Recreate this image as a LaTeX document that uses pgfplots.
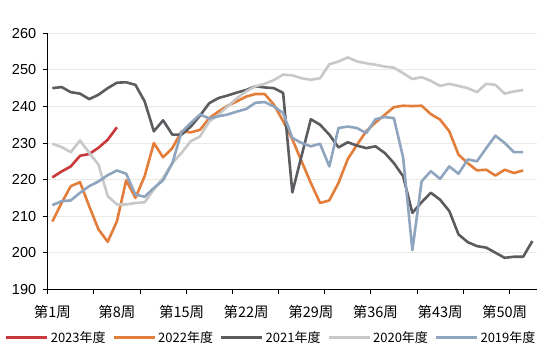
\documentclass[border=0pt]{standalone}
\usepackage{pgfplots}
\pgfplotsset{compat=1.18}
\usepackage{pgfplotstable}
\usepackage{fontspec}
\setmainfont{Liberation Sans}
\newfontfamily\cjk{Noto Sans CJK SC}
\definecolor{c23}{HTML}{C9383A}
\definecolor{c22}{HTML}{E27D3A}
\definecolor{c21}{HTML}{5B5C60}
\definecolor{c20}{HTML}{C8C8C8}
\definecolor{c19}{HTML}{8FA4BE}
\definecolor{gridc}{HTML}{EAEAE2}
\pgfplotstableread{
week y23 y22 y21 y20 y19
1 220.6 208.5 245.0 229.8 213.0
2 222.2 213.6 245.3 228.9 214.1
3 223.6 218.2 243.9 227.5 214.3
4 226.5 219.3 243.5 230.7 216.4
5 227.0 212.7 242.0 227.3 218.2
6 228.7 206.4 243.2 224.1 219.5
7 230.9 203.0 245.0 215.5 221.2
8 234.3 208.6 246.5 213.2 222.5
9 nan 219.8 246.6 213.2 221.6
10 nan 215.0 245.9 213.6 215.9
11 nan 220.9 241.4 213.8 215.3
12 nan 230.0 233.2 217.3 217.7
13 nan 226.1 236.2 220.5 219.8
14 nan 228.6 232.3 224.5 224.5
15 nan 233.2 232.3 227.3 233.0
16 nan 232.9 234.5 230.5 235.5
17 nan 233.6 237.5 231.8 237.8
18 nan 236.8 240.9 235.9 236.7
19 nan 238.6 242.3 237.7 237.3
20 nan 240.2 243.0 240.0 237.8
21 nan 241.4 243.8 242.3 238.6
22 nan 242.7 244.5 244.1 239.3
23 nan 243.4 245.5 245.5 241.0
24 nan 243.4 245.2 246.2 241.2
25 nan 240.5 245.0 247.2 240.0
26 nan 236.0 243.7 248.7 238.2
27 nan 231.0 216.5 248.5 231.4
28 nan 225.0 226.5 247.7 230.0
29 nan 219.1 236.5 247.3 229.1
30 nan 213.6 235.0 247.7 229.8
31 nan 214.3 232.3 251.5 223.6
32 nan 219.1 228.8 252.3 234.1
33 nan 225.6 230.2 253.4 234.5
34 nan 229.5 229.3 252.3 234.1
35 nan 233.2 228.6 251.8 232.7
36 nan 235.6 229.1 251.4 236.5
37 nan 237.7 227.3 250.9 237.1
38 nan 239.8 224.5 250.6 236.8
39 nan 240.2 220.9 249.1 226.0
40 nan 240.1 210.9 247.5 200.7
41 nan 240.2 213.8 248.0 219.5
42 nan 237.9 216.4 247.0 222.3
43 nan 236.4 214.5 245.6 220.2
44 nan 233.2 211.4 246.2 223.6
45 nan 226.8 205.0 245.6 221.6
46 nan 224.5 202.9 245.0 225.5
47 nan 222.5 201.8 243.9 225.0
48 nan 222.7 201.4 246.2 228.6
49 nan 221.1 200.0 245.9 232.0
50 nan 222.7 198.6 243.5 230.0
51 nan 221.8 198.9 244.1 227.5
52 nan 222.5 198.9 244.5 227.5
53 nan nan 203.2 nan nan
}\datatable
\begin{document}
\begin{tikzpicture}
\path[use as bounding box] (0,0) rectangle (550bp,354bp);
\begin{axis}[
  at={(47.7bp,64.7bp)}, anchor=south west,
  scale only axis, width=489.3bp, height=256bp,
  xmin=0.5, xmax=53.5, ymin=190, ymax=260,
  axis x line*=bottom, axis y line*=left,
  axis line style={black, line width=0.9pt},
  tick align=outside,
  major tick length=5bp,
  tick style={black, line width=0.9pt},
  xtick={0.5,5.5,10.5,15.5,20.5,25.5,30.5,35.5,40.5,45.5,50.5},
  xticklabels={},
  extra x ticks={1,8,15,22,29,36,43,50},
  extra x tick labels={第1周,第8周,第15周,第22周,第29周,第36周,第43周,第50周},
  extra x tick style={major tick length=0pt, grid=none, xticklabel style={font=\cjk\fontsize{14.5bp}{16bp}\selectfont, yshift=-12bp}},
  ytick={190,200,...,260},
  ymajorgrids, grid style={gridc, line width=0.9pt},
  yticklabel style={font=\fontsize{14.5bp}{16bp}\selectfont, xshift=-3bp},
  /pgf/number format/assume math mode=true,
  clip=false,
  legend columns=5,
  legend style={at={(0.457,-0.188)}, anchor=center, draw=none, fill=none,
    font=\cjk\fontsize{13bp}{15bp}\selectfont, inner sep=0pt,
    /tikz/every even column/.append style={column sep=5bp}},
  legend image code/.code={\draw[#1, line width=2.6bp] (0,0) -- (41bp,0);},
  every axis plot/.append style={line width=2.6bp, line join=round, no markers},
]
\addplot[c23] table[x=week, y=y23] {\datatable};
\addlegendentry{2023年度}
\addplot[c22] table[x=week, y=y22] {\datatable};
\addlegendentry{2022年度}
\addplot[c21] table[x=week, y=y21] {\datatable};
\addlegendentry{2021年度}
\addplot[c20] table[x=week, y=y20] {\datatable};
\addlegendentry{2020年度}
\addplot[c19] table[x=week, y=y19] {\datatable};
\addlegendentry{2019年度}
\end{axis}
\end{tikzpicture}
\end{document}
